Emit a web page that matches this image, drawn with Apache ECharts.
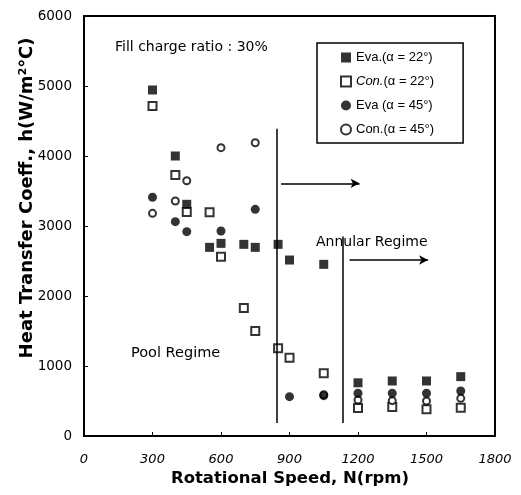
<!DOCTYPE html>
<html><head><meta charset="utf-8">
<script src="https://cdn.jsdelivr.net/npm/echarts@6/dist/echarts.min.js"></script>
<style>html,body{margin:0;padding:0;background:#fff}#c{width:521px;height:495px}</style>
</head><body><div id="c"></div>
<script>
// ---- data (rpm, h in W/m2C) ----
const rpmEva22 = [300, 400, 450, 550, 600, 700, 750, 850, 900, 1050, 1200, 1350, 1500, 1650];
const hEva22   = [4943, 4000, 3310, 2695, 2752, 2738, 2695, 2738, 2514, 2452, 760, 786, 786, 848];
const rpmCon22 = [300, 400, 450, 550, 600, 700, 750, 850, 900, 1050, 1200, 1350, 1500, 1650];
const hCon22   = [4714, 3729, 3200, 3195, 2562, 1830, 1500, 1252, 1119, 895, 400, 415, 381, 405];
const rpmEva45 = [300, 400, 450, 600, 750, 900, 1050, 1200, 1350, 1500, 1650];
const hEva45   = [3410, 3062, 2919, 2929, 3238, 562, 576, 610, 610, 610, 643];
const rpmCon45 = [300, 400, 450, 600, 750, 1050, 1200, 1350, 1500, 1650];
const hCon45   = [3181, 3357, 3647, 4119, 4190, 590, 514, 505, 500, 538];
const seriesNames = ['Eva.(α = 22°)', 'Con.(α = 22°)', 'Eva (α = 45°)', 'Con.(α = 45°)'];
const xTickValues = [0, 300, 600, 900, 1200, 1500, 1800];
const yTickValues = [0, 1000, 2000, 3000, 4000, 5000, 6000];
// regime boundaries: rpm, top h, bottom h
const boundaryRpm = [846, 1132];
const boundaryTop = [4390, 2850];
const boundaryBottom = [185, 185];
// arrows: start rpm, end rpm, h
const arrowStart = [863, 1163];
const arrowEnd = [1207, 1507];
const arrowH = [3610, 2514];

const pairs = (xs, ys) => xs.map((x, i) => [x, ys[i]]);

const markData = [];
boundaryRpm.forEach((x, i) => {
  markData.push([{coord: [x, boundaryTop[i]], symbol: 'none'}, {coord: [x, boundaryBottom[i]], symbol: 'none'}]);
});
arrowStart.forEach((x, i) => {
  markData.push([{coord: [x, arrowH[i]], symbol: 'none'}, {coord: [arrowEnd[i], arrowH[i]], symbol: 'arrow'}]);
});

const chart = echarts.init(document.getElementById('c'), null, {renderer: 'canvas'});
const font = 'Liberation Sans, Arial, sans-serif';
const wide = '"DejaVu Sans", sans-serif';
chart.setOption({
  animation: false,
  backgroundColor: '#fff',
  grid: {left: 84, right: 26, top: 16, bottom: 59, show: true, borderColor: '#000', borderWidth: 2},
  xAxis: {
    type: 'value', min: xTickValues[0], max: xTickValues[xTickValues.length - 1], interval: 300,
    axisLine: {show: true, lineStyle: {color: '#000', width: 2}},
    axisTick: {show: true, inside: true, length: 4, lineStyle: {color: '#000', width: 1}},
    splitLine: {show: false},
    axisLabel: {color: '#000', fontSize: 13, fontStyle: 'italic', fontFamily: wide, margin: 17, formatter: v => String(v)}
  },
  yAxis: {
    type: 'value', min: yTickValues[0], max: yTickValues[yTickValues.length - 1], interval: 1000,
    axisLine: {show: true, lineStyle: {color: '#000', width: 2}},
    axisTick: {show: true, inside: true, length: 4, lineStyle: {color: '#000', width: 1}},
    splitLine: {show: false},
    axisLabel: {color: '#000', fontSize: 13.5, fontFamily: wide, margin: 12, formatter: v => String(v)}
  },
  legend: {
    orient: 'vertical', left: 317, top: 43,
    padding: [8, 29, 7, 23], itemGap: 11, itemWidth: 10, itemHeight: 10, itemTextGap: 4,
    borderColor: '#000', borderWidth: 1.5,
    textStyle: {color: '#000', fontSize: 13, fontFamily: font, rich: {i: {fontStyle: 'italic', fontSize: 13, fontFamily: font}}},
    formatter: n => n === seriesNames[1] ? '{i|Con.}(α = 22°)' : n,
    data: seriesNames
  },
  graphic: [
    {type: 'text', left: 115, top: 40, style: {text: 'Fill charge ratio : 30%', font: '14px ' + wide, fill: '#000'}},
    {type: 'text', left: 316, top: 235, style: {text: 'Annular Regime', font: '14px ' + wide, fill: '#000'}},
    {type: 'text', left: 131, top: 346, style: {text: 'Pool Regime', font: '14.5px ' + wide, fill: '#000'}},
    {type: 'text', x: 27, y: 198, rotation: Math.PI / 2, style: {text: 'Heat Transfer Coeff., h(W/m²℃)', font: 'bold 18px ' + wide, fill: '#000', align: 'center', verticalAlign: 'middle'}},
    {type: 'text', x: 290, y: 479, style: {text: 'Rotational Speed, N(rpm)', font: 'bold 16.5px ' + wide, fill: '#000', align: 'center', verticalAlign: 'middle'}}
  ],
  series: [
    {name: seriesNames[0], type: 'scatter', symbol: 'rect', symbolSize: 9, z: 3,
     itemStyle: {color: '#000'}, data: pairs(rpmEva22, hEva22),
     markLine: {silent: true, symbolSize: [7, 9], label: {show: false},
       lineStyle: {color: '#000', width: 1.5, type: 'solid'}, data: markData}},
    {name: seriesNames[1], type: 'scatter', symbol: 'emptyRect', symbolSize: 8, z: 4,
     itemStyle: {color: '#000', borderColor: '#000', borderWidth: 1.6}, data: pairs(rpmCon22, hCon22)},
    {name: seriesNames[2], type: 'scatter', symbol: 'circle', symbolSize: 9, z: 5,
     itemStyle: {color: '#000'}, data: pairs(rpmEva45, hEva45)},
    {name: seriesNames[3], type: 'scatter', symbol: 'emptyCircle', symbolSize: 7, z: 4,
     itemStyle: {color: '#000', borderColor: '#000', borderWidth: 1.8}, data: pairs(rpmCon45, hCon45)}
  ]
});
</script>
</body></html>
